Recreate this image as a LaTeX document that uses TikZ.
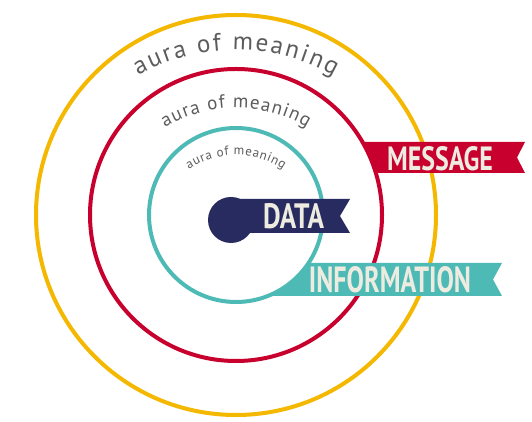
\documentclass[tikz,border=0pt]{standalone}
\usepackage{fontspec}
\usepackage{graphicx}
\setmainfont{PT Sans}
\newfontfamily\bannerfont{PT Sans}
\newfontfamily\arcfont{PT Sans}
\usetikzlibrary{decorations.text}
\definecolor{ringyellow}{HTML}{F5B800}
\definecolor{ringred}{HTML}{C8002E}
\definecolor{ringteal}{HTML}{4DBAB6}
\definecolor{navy}{HTML}{272B60}
\definecolor{cream}{HTML}{EEEBE0}
\definecolor{auragray}{HTML}{5C5C5C}
\begin{document}
\begin{tikzpicture}[x=1pt,y=1pt,
  ring/.style={line width=4pt},
  bannertext/.style={text=cream, inner sep=0pt, font=\bannerfont\bfseries},
  auratext/.style={decorate, decoration={text along path, text align=fit to path, text color=auragray, text={#1}}},
]
\useasboundingbox (0,0) rectangle (532,422);
\fill[white] (0,0) rectangle (532,422);
\coordinate (C) at (236,207);
\draw[ring, ringyellow] (C) circle[radius=200];
\draw[ring, ringred] (C) circle[radius=146];
\draw[ring, ringteal] (C) circle[radius=87];
% MESSAGE banner
\fill[ringred] ([shift={(C)}]30:146) -- (525,280) -- (517,264.5) -- (525,249)
  -- ([shift={(C)}]16.72:146)
  arc[start angle=16.72, end angle=30, radius=146] -- cycle;
% INFORMATION banner
\fill[ringteal] ([shift={(C)}]-33.49:87) -- (502,159) -- (493,142.5) -- (502,126)
  -- ([shift={(C)}]-68.61:87)
  arc[start angle=-68.61, end angle=-33.49, radius=87] -- cycle;
% DATA banner
\fill[navy] (231,223) -- (350,223) -- (340,206) -- (350,189) -- (231,189) -- cycle;
\fill[navy] (231,202) circle[radius=23];
\node[bannertext] (data) at (293.5,205.5) {\resizebox{61pt}{25pt}{DATA}};
\node[bannertext] (message) at (440,263) {\resizebox{106pt}{24pt}{MESSAGE}};
\node[bannertext] (information) at (390,142) {\resizebox{162pt}{26pt}{INFORMATION}};
% aura texts
\path[auratext={|\arcfont\fontsize{25}{29}\selectfont|aura of meaning}]
  ([shift={(236,172)}]119.3:200) arc[start angle=119.3, end angle=60.7, radius=200];
\path[auratext={|\arcfont\fontsize{19}{22}\selectfont|aura of meaning}]
  ([shift={(236,174)}]120.5:140) arc[start angle=120.5, end angle=59.5, radius=140];
\path[auratext={|\arcfont\fontsize{13}{15}\selectfont|aura of meaning}]
  ([shift={(236,182)}]123.6:85) arc[start angle=123.6, end angle=56.4, radius=85];
\end{tikzpicture}
\end{document}
